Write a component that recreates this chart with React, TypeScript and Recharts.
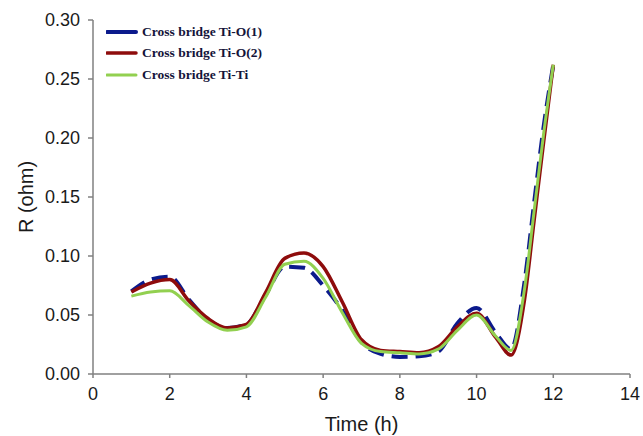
import React from 'react';
import { LineChart, Line, XAxis, YAxis, Legend } from 'recharts';

const times = [1, 1.5, 2, 2.5, 3, 3.5, 4, 4.5, 5, 5.5, 6, 6.5, 7, 7.5, 8, 8.5, 9, 9.5, 10, 10.5, 10.9, 11.25, 11.5, 11.75, 12];
const tiO1 = [0.070, 0.080, 0.0825, 0.063, 0.046, 0.039, 0.042, 0.067, 0.091, 0.090, 0.075, 0.054, 0.027, 0.017, 0.0145, 0.015, 0.019, 0.043, 0.056, 0.035, 0.021, 0.078, 0.145, 0.21, 0.262];
const tiO2 = [0.0695, 0.077, 0.080, 0.062, 0.047, 0.039, 0.042, 0.069, 0.098, 0.1025, 0.091, 0.061, 0.029, 0.020, 0.019, 0.018, 0.023, 0.040, 0.0515, 0.031, 0.016, 0.063, 0.13, 0.197, 0.262];
const tiTi = [0.066, 0.0695, 0.0705, 0.058, 0.044, 0.037, 0.040, 0.065, 0.093, 0.0955, 0.081, 0.052, 0.026, 0.019, 0.018, 0.017, 0.021, 0.037, 0.050, 0.032, 0.020, 0.072, 0.138, 0.204, 0.262];
const xTicks = [0, 2, 4, 6, 8, 10, 12, 14];
const yTicks = [0, 0.05, 0.1, 0.15, 0.2, 0.25, 0.3];

const data = times.map((t, i) => ({ t, a: tiO1[i], b: tiO2[i], c: tiTi[i] }));

const legendItems = [
  { name: 'Cross bridge Ti-O(1)', color: '#0b1a8c', width: 4 },
  { name: 'Cross bridge Ti-O(2)', color: '#8e0c0c', width: 3.5 },
  { name: 'Cross bridge Ti-Ti', color: '#92d050', width: 3 },
];

const LegendContent = () => (
  <div>
    {legendItems.map((it) => (
      <div key={it.name} style={{ display: 'flex', alignItems: 'center', height: 21.5 }}>
        <svg width={36} height={8}>
          <line x1={1} y1={4} x2={30} y2={4} stroke={it.color} strokeWidth={it.width} strokeLinecap="round" />
        </svg>
        <span style={{ fontFamily: '"Liberation Serif", "Times New Roman", serif', fontWeight: 'bold', fontSize: 13.5, color: '#14143a' }}>{it.name}</span>
      </div>
    ))}
  </div>
);

const tickStyle = { fontFamily: '"Liberation Sans", Arial, sans-serif', fontSize: 18, fill: '#1a1a1a' };

export default function App() {
  return (
    <div style={{ position: 'absolute', left: 0, top: 0 }}>
      <LineChart width={643} height={436} data={data} margin={{ top: 20, right: 13, left: 5, bottom: 12 }}>
        <XAxis
          dataKey="t"
          type="number"
          domain={[0, 14]}
          ticks={xTicks}
          tick={tickStyle}
          tickSize={4}
          tickMargin={9}
          height={50}
          stroke="#808080"
          strokeWidth={1.5}
          label={{ value: 'Time (h)', position: 'insideBottom', offset: -7, style: { fontFamily: '"Liberation Sans", Arial, sans-serif', fontSize: 20, fill: '#1a1a1a' } }}
        />
        <YAxis
          type="number"
          domain={[0, 0.3]}
          ticks={yTicks}
          tickFormatter={(v: number) => v.toFixed(2)}
          tick={tickStyle}
          tickSize={5}
          tickMargin={8}
          width={88}
          stroke="#808080"
          strokeWidth={1.5}
          label={{ value: 'R (ohm)', angle: -90, position: 'insideLeft', offset: 30, dx: -9, style: { fontFamily: '"Liberation Sans", Arial, sans-serif', fontSize: 20, fill: '#1a1a1a', textAnchor: 'middle' } }}
        />
        <Legend
          layout="horizontal"
          verticalAlign="middle"
          align="center"
          content={<LegendContent />}
          wrapperStyle={{ position: 'absolute', top: 21, left: 106, width: 'auto' }}
        />
        <Line dataKey="a" type="monotone" stroke="#0b1a8c" strokeWidth={4} strokeDasharray="16 8" dot={false} isAnimationActive={false} />
        <Line dataKey="b" type="monotone" stroke="#8e0c0c" strokeWidth={3.5} dot={false} isAnimationActive={false} />
        <Line dataKey="c" type="monotone" stroke="#92d050" strokeWidth={3} dot={false} isAnimationActive={false} />
      </LineChart>
    </div>
  );
}
